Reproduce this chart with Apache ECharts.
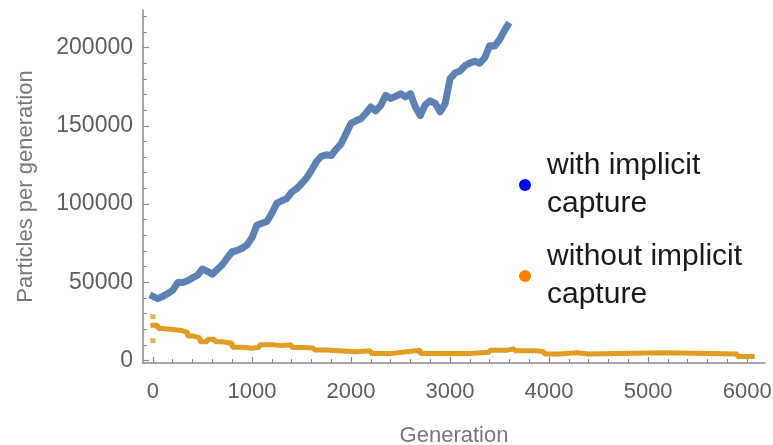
<!DOCTYPE html>
<html>
<head>
<meta charset="utf-8">
<script src="https://cdn.jsdelivr.net/npm/echarts@6/dist/echarts.min.js"></script>
<style>
  html, body { margin: 0; padding: 0; background: #fff; }
  #chart { width: 773px; height: 445px; }
</style>
</head>
<body>
<div id="chart"></div>
<script>
// Particle counts per generation, two transport runs
const withGen = [0, 50, 100, 150, 200, 250, 300, 350, 400, 450, 500, 550, 600, 650, 700, 750, 800, 850, 900, 950,
  1000, 1050, 1100, 1150, 1200, 1250, 1300, 1350, 1400, 1450, 1500, 1550, 1600, 1650, 1700, 1750, 1800, 1850, 1900, 1950,
  2000, 2050, 2100, 2150, 2200, 2250, 2300, 2350, 2400, 2450, 2500, 2550, 2600, 2650, 2700, 2750, 2800, 2850, 2900, 2950,
  3000, 3050, 3100, 3150, 3200, 3250, 3300, 3350, 3400, 3450, 3500, 3550, 3580];
const withValues = [41000, 39500, 41000, 42800, 44800, 49800, 49800, 51000, 52800, 54500, 58500, 57000, 55200, 58200, 61200, 65500, 69500, 70300, 71700, 73800,
  78500, 86500, 87700, 88800, 94000, 100500, 102000, 103500, 107500, 109800, 113000, 116500, 121500, 127000, 130500, 131500, 131000, 135000, 138500, 145000,
  151500, 153200, 154500, 158000, 162000, 159500, 163000, 169500, 167500, 168800, 170500, 168500, 170500, 162000, 156500, 163500, 166000, 164400, 159000, 164000,
  180000, 183800, 185000, 188300, 190200, 191200, 190000, 193500, 201200, 201000, 205000, 211000, 214000];

const withoutGen = [0, 50, 100, 250, 300, 350, 400, 475, 550, 625, 700, 800, 900, 1000, 1075, 1200, 1300, 1400, 1500, 1625,
  1750, 2050, 2200, 2400, 2560, 2700, 3200, 3400, 3570, 3650, 3850, 3950, 4100, 4280, 4400, 5160, 5900, 6050];
const withoutValues = [22500, 20500, 19500, 19000, 18000, 15700, 14500, 12000, 13500, 12000, 11000, 8500, 7800, 8400, 10000, 9500, 10000, 8300, 8000, 6700,
  5600, 6300, 4400, 5600, 6500, 4400, 5200, 6500, 7600, 6300, 5600, 4200, 5000, 4200, 5000, 4200, 2600, 2600];

// stray early samples of the second run
const withoutStrayGen = [0, 0];
const withoutStrayValues = [28000, 12700];

const xMajor = [0, 1000, 2000, 3000, 4000, 5000, 6000];
const yMajor = [0, 50000, 100000, 150000, 200000];

const seriesNames = ['with implicit\ncapture', 'without implicit\ncapture'];

const zip = (a, b) => a.map((v, i) => [v, b[i]]);
const xMinor = [];
for (let g = 200; g < 6000; g += 200) if (g % 1000 !== 0) xMinor.push(g);
const yMinor = [];
for (let v = 10000; v <= 220000; v += 10000) if (v % 50000 !== 0) yMinor.push(v);

const axisGray = '#8a8a8a';
const labelGray = '#5e5e5e';
const font = '"Liberation Sans", Arial, sans-serif';
const plain = v => String(v);

const X_MIN = -100, X_MAX = 6180;
const Y_MIN = -1600, Y_MAX = 224000;

const chart = echarts.init(document.getElementById('chart'), null, { renderer: 'canvas' });
chart.setOption({
  animation: false,
  backgroundColor: '#ffffff',
  textStyle: { fontFamily: font },
  grid: { left: 143, right: 8, top: 10, bottom: 82, containLabel: false, outerBoundsMode: 'none' },
  legend: {
    orient: 'vertical',
    left: 514,
    top: 142,
    itemWidth: 12,
    itemHeight: 12,
    itemGap: 15,
    icon: 'circle',
    textStyle: { fontSize: 30, lineHeight: 38, color: '#1a1a1a', fontFamily: font, padding: [0, 0, 0, 11] },
    data: [
      { name: seriesNames[0], itemStyle: { color: '#0000ff' } },
      { name: seriesNames[1], itemStyle: { color: '#ff8000' } }
    ]
  },
  xAxis: [
    {
      type: 'value', min: X_MIN, max: X_MAX, position: 'bottom',
      name: 'Generation', nameLocation: 'middle', nameGap: 62,
      nameTextStyle: { fontSize: 22, color: '#777', fontFamily: font },
      axisLine: { show: true, onZero: false, lineStyle: { color: axisGray, width: 1.5 } },
      axisTick: { show: true, inside: true, length: 6, customValues: xMajor, lineStyle: { color: axisGray, width: 1.2 } },
      axisLabel: { show: true, customValues: xMajor, formatter: plain, margin: 18, fontSize: 22, color: labelGray, fontFamily: font },
      splitLine: { show: false }
    },
    {
      type: 'value', min: X_MIN, max: X_MAX, position: 'bottom',
      axisLine: { show: false, onZero: false },
      axisTick: { show: true, inside: true, length: 4, customValues: xMinor, lineStyle: { color: axisGray, width: 1 } },
      axisLabel: { show: false },
      splitLine: { show: false }
    }
  ],
  yAxis: [
    {
      type: 'value', min: Y_MIN, max: Y_MAX, position: 'left',
      name: 'Particles per generation', nameLocation: 'middle', nameGap: 106,
      nameTextStyle: { fontSize: 22, color: '#777', fontFamily: font },
      axisLine: { show: true, onZero: false, lineStyle: { color: axisGray, width: 1.5 } },
      axisTick: { show: true, inside: true, length: 6, customValues: yMajor, lineStyle: { color: axisGray, width: 1.2 } },
      axisLabel: { show: true, customValues: yMajor, formatter: plain, margin: 10, fontSize: 23, color: labelGray, fontFamily: font },
      splitLine: { show: false }
    },
    {
      type: 'value', min: Y_MIN, max: Y_MAX, position: 'left',
      axisLine: { show: false, onZero: false },
      axisTick: { show: true, inside: true, length: 4, customValues: yMinor, lineStyle: { color: axisGray, width: 1 } },
      axisLabel: { show: false },
      splitLine: { show: false }
    }
  ],
  series: [
    {
      name: seriesNames[0], type: 'line', xAxisIndex: 0, yAxisIndex: 0,
      data: zip(withGen, withValues),
      showSymbol: false, smooth: false,
      lineStyle: { color: '#5e81b5', width: 7, join: 'round', cap: 'square' },
      itemStyle: { color: '#5e81b5' }
    },
    {
      name: seriesNames[1], type: 'line', xAxisIndex: 0, yAxisIndex: 0, step: 'end',
      data: zip(withoutGen, withoutValues),
      showSymbol: false,
      lineStyle: { color: '#e19c24', width: 5, cap: 'square' },
      itemStyle: { color: '#e19c24' }
    },
    {
      name: 'stray', type: 'scatter', xAxisIndex: 0, yAxisIndex: 0,
      data: zip(withoutStrayGen, withoutStrayValues),
      symbol: 'rect', symbolSize: 5,
      itemStyle: { color: '#e19c24' }
    }
  ]
});
</script>
</body>
</html>
